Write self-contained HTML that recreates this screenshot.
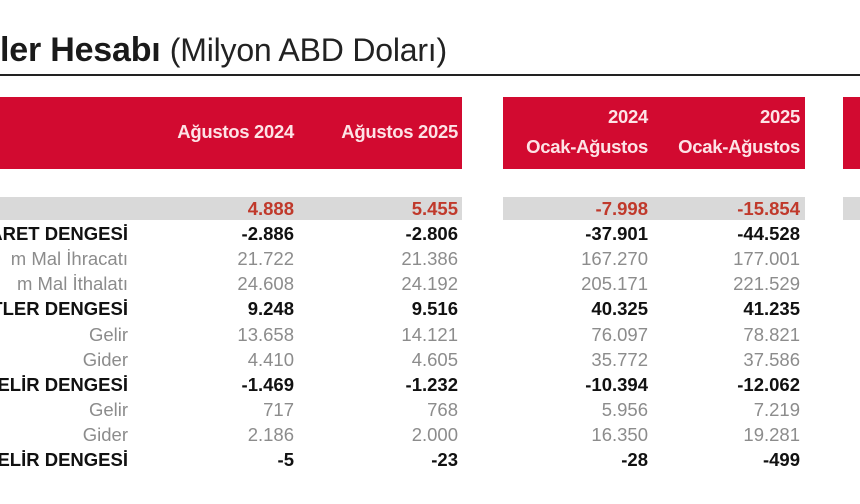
<!DOCTYPE html>
<html><head><meta charset="utf-8"><style>
body{margin:0;width:860px;height:504px;overflow:hidden;background:#fff;font-family:"Liberation Sans",sans-serif;position:relative}
.a{position:absolute;white-space:nowrap}
.red{position:absolute;background:#d20a30;top:97px;height:72px}
.grey{position:absolute;background:#d9d9d9;top:197px;height:23px}
.r{position:absolute;text-align:right;font-size:18.5px;line-height:25px;height:25px;white-space:nowrap}
.b{font-weight:bold;color:#111}
.g{color:#8c8c8c}
.h{color:#fde3e6;font-weight:bold;font-size:18.5px;text-align:right;position:absolute;letter-spacing:-0.3px;white-space:nowrap}
</style></head><body>
<div class="a" style="left:0;top:31px;font-size:34px;color:#1a1a1a;letter-spacing:-0.2px"><b>ler Hesabı</b> <span style="font-size:32px;color:#222">(Milyon ABD Doları)</span></div>
<div class="a" style="left:0;top:74px;width:860px;height:2px;background:#222"></div>
<div class="red" style="left:0;width:462px"></div>
<div class="red" style="left:503px;width:302px"></div>
<div class="red" style="left:843px;width:17px"></div>
<div class="h" style="right:566px;top:121px">Ağustos 2024</div>
<div class="h" style="right:402px;top:121px">Ağustos 2025</div>
<div class="h" style="right:212px;top:106px">2024</div>
<div class="h" style="right:212px;top:136px">Ocak-Ağustos</div>
<div class="h" style="right:60px;top:106px">2025</div>
<div class="h" style="right:60px;top:136px">Ocak-Ağustos</div>
<div class="grey" style="left:0;width:462px"></div>
<div class="grey" style="left:503px;width:302px"></div>
<div class="grey" style="left:843px;width:17px"></div>
<div id="t"></div>
<script>
var rows=[
["","4.888","5.455","-7.998","-15.854","red"],
["ARET DENGESİ","-2.886","-2.806","-37.901","-44.528","b"],
["m Mal İhracatı","21.722","21.386","167.270","177.001","g"],
["m Mal İthalatı","24.608","24.192","205.171","221.529","g"],
["TLER DENGESİ","9.248","9.516","40.325","41.235","b"],
["Gelir","13.658","14.121","76.097","78.821","g"],
["Gider","4.410","4.605","35.772","37.586","g"],
["ELİR DENGESİ","-1.469","-1.232","-10.394","-12.062","b"],
["Gelir","717","768","5.956","7.219","g"],
["Gider","2.186","2.000","16.350","19.281","g"],
["ELİR DENGESİ","-5","-23","-28","-499","b"]];
var rights=[732,566,402,212,60],h='';
rows.forEach(function(r,i){var top=196+25.1*i;var cls=r[5]=='red'?'b':r[5];var st=r[5]=='red'?'color:#c0392b;font-weight:bold;':'';
for(var j=0;j<5;j++){if(!r[j])continue;h+='<div class="r '+cls+'" style="'+st+'right:'+rights[j]+'px;top:'+top+'px">'+r[j]+'</div>';}});
document.getElementById('t').innerHTML=h;
</script>
</body></html>
